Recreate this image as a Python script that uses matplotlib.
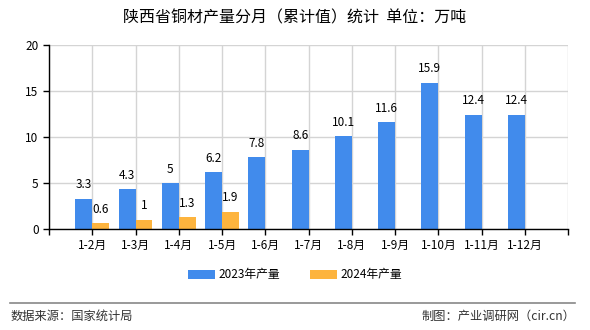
import matplotlib.pyplot as plt
import numpy as np

plt.rcParams['font.family'] = ['Noto Sans CJK SC', 'DejaVu Sans']

months = ['1-2月', '1-3月', '1-4月', '1-5月', '1-6月', '1-7月', '1-8月',
          '1-9月', '1-10月', '1-11月', '1-12月']
prod_2023 = [3.3, 4.3, 5, 6.2, 7.8, 8.6, 10.1, 11.6, 15.9, 12.4, 12.4]
prod_2024 = [0.6, 1, 1.3, 1.9]

blue = '#418bec'
orange = '#fdb43e'

fig = plt.figure(figsize=(5.9, 3.3), dpi=100)
ax = fig.add_axes([0.083, 0.306, 0.88, 0.558])

x = np.arange(1, len(months) + 1)
w = 0.39
b1 = ax.bar(x - w / 2, prod_2023, width=w, color=blue, label='2023年产量', zorder=3)
x2 = x[:len(prod_2024)]
b2 = ax.bar(x2 + w / 2, prod_2024, width=w, color=orange, label='2024年产量', zorder=3)

for xi, v in zip(x, prod_2023):
    ax.text(xi - w / 2, v + 0.8, f'{v:g}', ha='center', va='bottom', fontsize=8.5, zorder=4)
for xi, v in zip(x2, prod_2024):
    ax.text(xi + w / 2, v + 0.8, f'{v:g}', ha='center', va='bottom', fontsize=8.5, zorder=4)

ax.set_xlim(0, len(months) + 1)
ax.set_ylim(0, 20)
ax.set_yticks([0, 5, 10, 15, 20])
ax.set_xticks(np.arange(0, len(months) + 2))
ax.set_xticklabels([''] + months + [''])
ax.tick_params(axis='both', labelsize=8.5, length=4, width=1, colors='black')
ax.grid(True, color='#d4d4d4', linewidth=1, zorder=0)
for s in ['top', 'right']:
    ax.spines[s].set_visible(False)
for s in ['left', 'bottom']:
    ax.spines[s].set_color('black')
    ax.spines[s].set_linewidth(1)
    ax.spines[s].set_zorder(5)

fig.text(0.5, 0.945, '陕西省铜材产量分月（累计值）统计  单位：万吨', ha='center', va='center', fontsize=11.5)

fig.legend(handles=[b1, b2], loc='center', bbox_to_anchor=(0.5, 0.167), ncol=2,
           frameon=False, fontsize=8.5, handlelength=2.3, handleheight=0.8,
           columnspacing=2.5, handletextpad=0.3)

fig.add_artist(plt.Line2D([0.017, 0.975], [0.082, 0.082], color='#888888', linewidth=1.2))
fig.text(0.017, 0.042, '数据来源：国家统计局', ha='left', va='center', fontsize=8.8, color='#333333')
fig.text(0.975, 0.042, '制图：产业调研网（cir.cn）', ha='right', va='center', fontsize=8.8, color='#333333')

fig.savefig('out.png', dpi=100)
